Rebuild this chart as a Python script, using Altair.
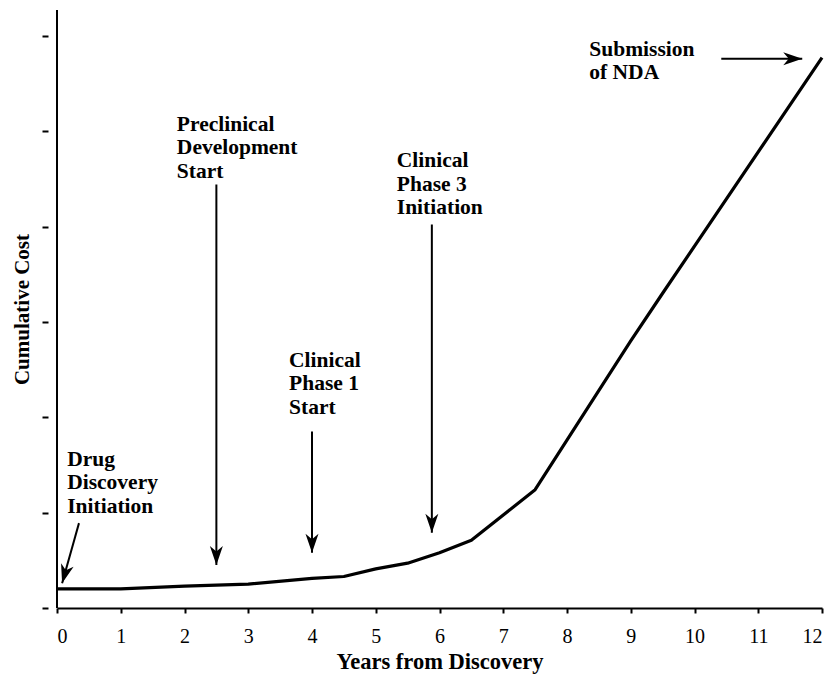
import altair as alt
import pandas as pd

# Cumulative cost curve (arbitrary cost units)
years = [0, 1, 2, 3, 4, 4.5, 5, 5.5, 6, 6.5, 7.5, 9, 9.5, 12]
cost = [0.2, 0.2, 0.23, 0.25, 0.31, 0.33, 0.41, 0.47, 0.58, 0.71, 1.24, 2.8, 3.3, 5.77]

x_ticks = list(range(13))
y_ticks = [0, 1, 2, 3, 4, 5, 6]

# Milestone annotations
labels = ["Drug\nDiscovery\nInitiation",
          "Preclinical\nDevelopment\nStart",
          "Clinical\nPhase 1\nStart",
          "Clinical\nPhase 3\nInitiation",
          "Submission\nof NDA"]
label_x = [0.16, 1.88, 3.64, 5.33, 8.35]
label_y = [1.67, 5.18, 2.71, 4.80, 5.97]

arrow_x0 = [0.345, 2.5, 4.0, 5.88, 10.42]
arrow_y0 = [0.89, 4.44, 1.85, 4.02, 5.76]
arrow_x1 = [0.08, 2.5, 4.0, 5.88, 11.69]
arrow_y1 = [0.26, 0.45, 0.58, 0.79, 5.76]
arrow_angle = [16, 0, 0, 0, 270]

FONT = "Liberation Serif"
Y_TOP = 6.27

curve = pd.DataFrame({"x": years, "y": cost})
notes = pd.DataFrame({"x": label_x, "y": label_y, "text": labels})
arrows = pd.DataFrame({"x": arrow_x0, "y": arrow_y0, "x2": arrow_x1, "y2": arrow_y1})
heads = pd.DataFrame({"x": arrow_x1, "y": arrow_y1, "angle": arrow_angle})
yline_df = pd.DataFrame({"x": [0], "y": [0], "y2": [Y_TOP]})

xs = alt.Scale(domain=[0, 12], nice=False, zero=False)
ys = alt.Scale(domain=[0, Y_TOP], nice=False, zero=False)

x_axis = alt.Axis(values=x_ticks, title="Years from Discovery", format="d",
                  tickSize=5, tickWidth=2, domainWidth=2,
                  labelPadding=13, titlePadding=4, labelFontSize=20,
                  titleFontSize=22.5)
y_axis = alt.Axis(values=y_ticks, title="Cumulative Cost", labels=False,
                  domain=False, offset=9, tickSize=6, tickWidth=2,
                  titlePadding=9, titleFontSize=21)

X = alt.X("x:Q", scale=xs, axis=x_axis)
Y = alt.Y("y:Q", scale=ys, axis=y_axis)

line = alt.Chart(curve).mark_line(color="black", strokeWidth=3.2, strokeJoin="round").encode(
    x=X, y=Y)

yline = alt.Chart(yline_df).mark_rule(color="black", strokeWidth=2).encode(
    x=X, y=Y, y2="y2:Q")

shafts = alt.Chart(arrows).mark_rule(color="black", strokeWidth=2).encode(
    x=X, y=Y, x2="x2:Q", y2="y2:Q")

HEAD = "M0,0L-0.65,-1.9L0,-1.35L0.65,-1.9Z"
tips = alt.Chart(heads).mark_point(shape=HEAD, filled=True, size=400, color="black",
                                   opacity=1, strokeWidth=0).encode(
    x=X, y=Y, angle=alt.Angle("angle:Q", scale=None))

text = alt.Chart(notes).mark_text(align="left", baseline="top", font=FONT, fontWeight="bold",
                                  fontSize=21.5, lineHeight=23.5, lineBreak="\n",
                                  color="black").encode(
    x=X, y=Y, text="text:N")

chart = alt.layer(line, yline, shafts, tips, text).properties(
    width=765, height=598,
    autosize=alt.AutoSizeParams(type="none"),
    padding={"left": 49, "top": 2, "right": 4, "bottom": 66},
    background="white",
).configure_view(stroke=None).configure_axis(
    grid=False, domainColor="black", tickColor="black",
    labelFont=FONT, labelColor="black",
    titleFont=FONT, titleFontWeight="bold", titleColor="black",
)

chart.save("out.html", embed_options={"renderer": "svg", "actions": False})
